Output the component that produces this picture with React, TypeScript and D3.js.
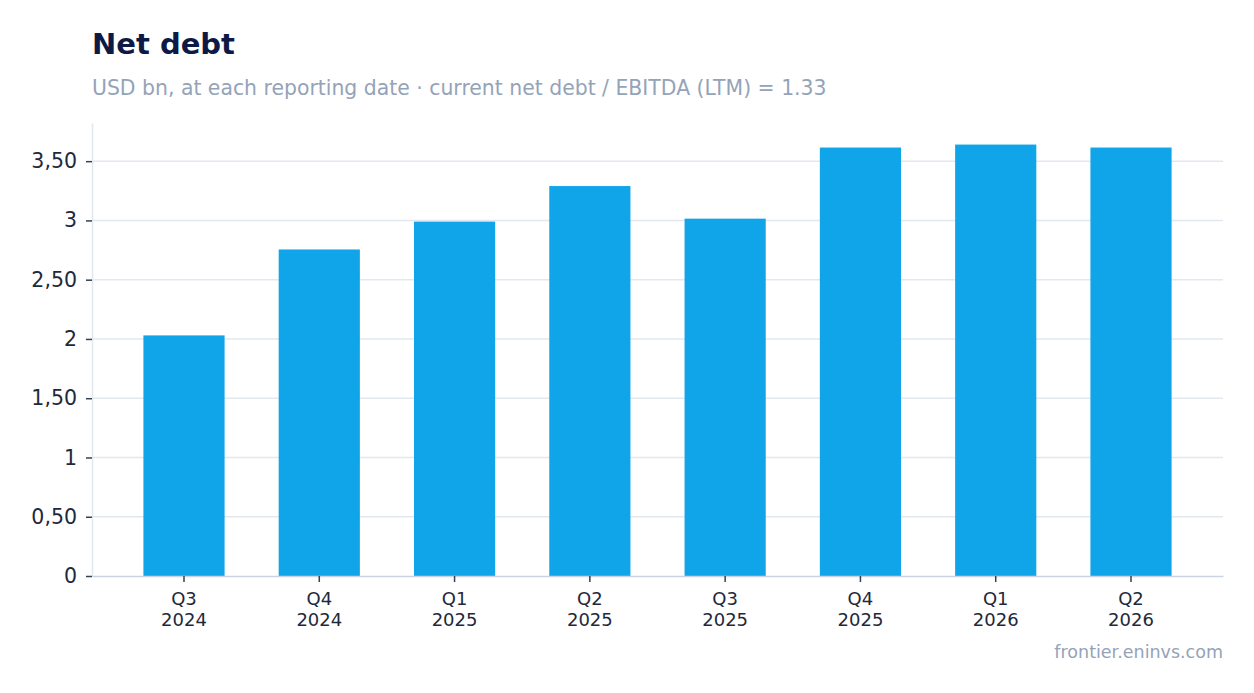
import React, { useEffect, useRef } from 'react';
import * as d3 from 'd3';

const periods = ['Q3 2024', 'Q4 2024', 'Q1 2025', 'Q2 2025', 'Q3 2025', 'Q4 2025', 'Q1 2026', 'Q2 2026'];
const netDebt = [2.03, 2.755, 2.99, 3.29, 3.015, 3.615, 3.64, 3.615];
const yTicks = [0, 0.5, 1, 1.5, 2, 2.5, 3, 3.5];

const title = 'Net debt';
const subtitle = 'USD bn, at each reporting date · current net debt / EBITDA (LTM) = 1.33';
const source = 'frontier.eninvs.com';

const W = 1254;
const H = 693;
const FONT = '"DejaVu Sans", sans-serif';

const fmtTick = (v: number) => (Number.isInteger(v) ? `${v}` : v.toFixed(2).replace('.', ','));

const App: React.FC = () => {
  const svgRef = useRef<SVGSVGElement>(null);

  useEffect(() => {
    if (!svgRef.current) return;
    const svg = d3.select(svgRef.current);
    svg.selectAll('*').remove();

    const margin = { top: 123, right: 31, bottom: 117, left: 92 };
    const innerWidth = W - margin.left - margin.right;
    const innerHeight = H - margin.top - margin.bottom;

    const x = d3
      .scaleBand<string>()
      .domain(periods)
      .range([0, innerWidth])
      .paddingInner(0.4)
      .paddingOuter(0.38);

    const y = d3
      .scaleLinear()
      .domain([0, (d3.max(netDebt) as number) * 1.05])
      .range([innerHeight, 0]);

    // Title and subtitle
    svg.append('text')
      .attr('x', margin.left)
      .attr('y', 54)
      .attr('font-family', FONT)
      .attr('font-weight', 'bold')
      .attr('font-size', 29)
      .attr('fill', '#0c1a45')
      .text(title);

    svg.append('text')
      .attr('x', margin.left)
      .attr('y', 95)
      .attr('font-family', FONT)
      .attr('font-size', 20.4)
      .attr('fill', '#94a3b8')
      .text(subtitle);

    const g = svg.append('g').attr('transform', `translate(${margin.left},${margin.top})`);

    // Grid lines
    g.append('g')
      .selectAll('line')
      .data(yTicks.filter((t) => t > 0))
      .enter()
      .append('line')
      .attr('x1', 0)
      .attr('x2', innerWidth)
      .attr('y1', (d) => y(d))
      .attr('y2', (d) => y(d))
      .attr('stroke', '#e2e8f0')
      .attr('stroke-width', 1.5);

    // Bars
    g.selectAll('.bar')
      .data(netDebt)
      .enter()
      .append('rect')
      .attr('class', 'bar')
      .attr('x', (_, i) => x(periods[i]) as number)
      .attr('y', (d) => y(d))
      .attr('width', x.bandwidth())
      .attr('height', (d) => innerHeight - y(d))
      .attr('fill', '#10a5e8');

    // Y axis
    const yAxis = g.append('g').call(
      d3.axisLeft(y).tickValues(yTicks).tickSize(6).tickSizeOuter(0).tickPadding(9)
        .tickFormat((d) => fmtTick(d as number))
    );
    yAxis.select('.domain').attr('stroke', '#e2e8f0').attr('stroke-width', 1.5);
    yAxis.selectAll('.tick line').attr('stroke', '#334155').attr('stroke-width', 1.5);
    yAxis.selectAll('.tick text')
      .attr('font-family', FONT)
      .attr('font-size', 20.5)
      .attr('fill', '#1e293b');

    // X axis
    const xAxis = g.append('g')
      .attr('transform', `translate(0,${innerHeight})`)
      .call(d3.axisBottom(x).tickSize(6).tickSizeOuter(0).tickFormat(() => ''));
    xAxis.select('.domain').attr('stroke', '#cbd5e1').attr('stroke-width', 1.5);
    xAxis.selectAll('.tick line').attr('stroke', '#334155').attr('stroke-width', 1.5);

    xAxis.selectAll('.tick text').each(function (d) {
      const [q, yr] = (d as string).split(' ');
      const t = d3.select(this)
        .attr('font-family', FONT)
        .attr('font-size', 18)
        .attr('fill', '#1e293b')
        .attr('y', 0)
        .attr('dy', null);
      t.append('tspan').attr('x', 0).attr('y', 29).text(q);
      t.append('tspan').attr('x', 0).attr('y', 50).text(yr);
    });

    // Source
    svg.append('text')
      .attr('x', W - margin.right)
      .attr('y', 658)
      .attr('text-anchor', 'end')
      .attr('font-family', FONT)
      .attr('font-size', 17.5)
      .attr('fill', '#94a3b8')
      .text(source);
  }, []);

  return (
    <svg
      ref={svgRef}
      width={W}
      height={H}
      style={{ position: 'absolute', left: 0, top: 0, background: '#fff' }}
    />
  );
};

export default App;
